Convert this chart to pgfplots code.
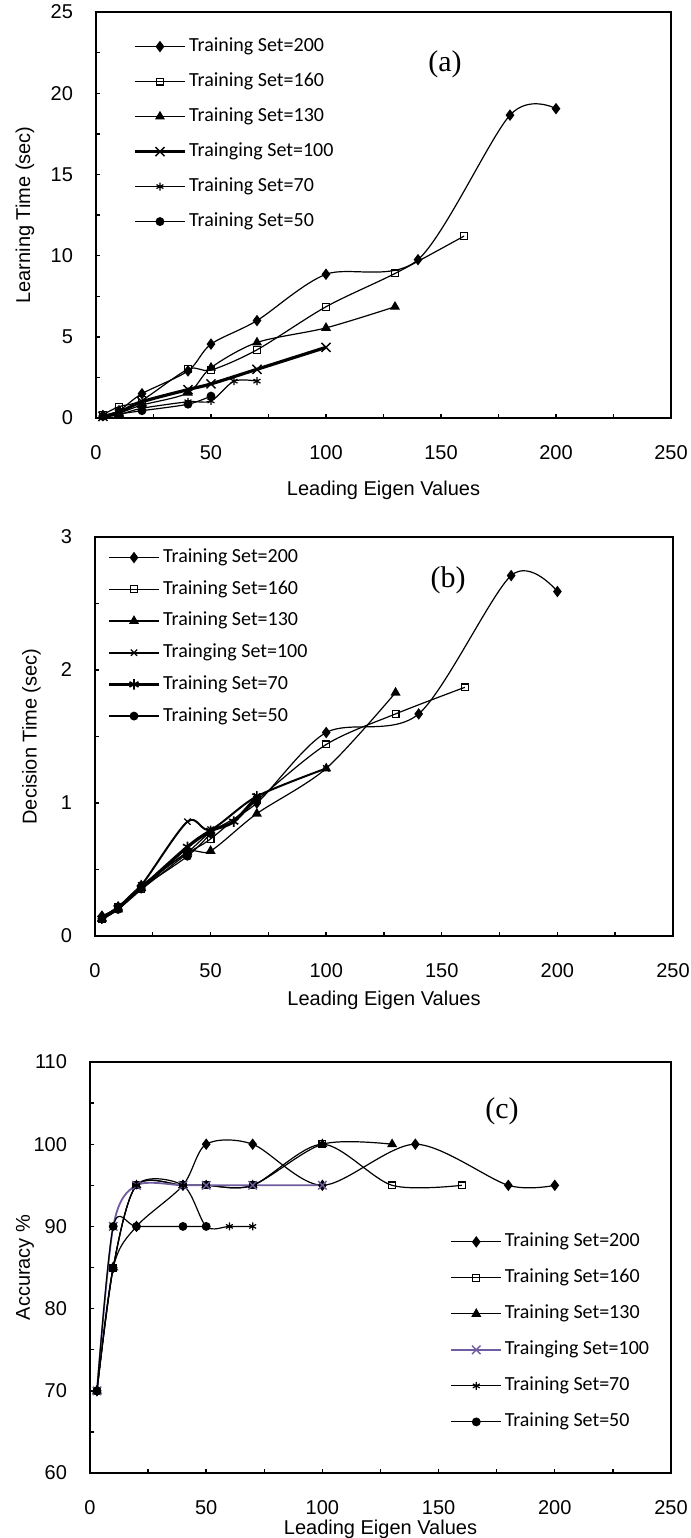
\documentclass[border=0pt]{standalone}
\usepackage{fontspec}
\setmainfont{Liberation Sans}
\newfontfamily\legfont{Carlito}
\newfontfamily\capfont{Liberation Serif}
\usepackage{pgfplots}
\pgfplotsset{compat=1.18}
\definecolor{purp}{RGB}{112,92,160}

\pgfplotsset{
  panel/.style={
    scale only axis, anchor=north west,
    xmin=0, xmax=250, xtick={0,50,...,250}, minor x tick num=1,
    tick align=inside, xtick pos=bottom, ytick pos=left,
    major tick length=2.2pt, minor tick length=2pt,
    every tick/.style={black, line width=0.7pt},
    axis line style={line width=0.8pt},
    /pgf/number format/assume math mode=true,
    ticklabel style={font=\fontsize{10}{12}\selectfont},
    xticklabel style={yshift=-10pt},
    yticklabel style={xshift=-8pt},
    label style={font=\fontsize{10}{12}\selectfont},
    legend cell align=left,
    legend style={draw=none, fill=none, inner sep=0pt, anchor=north west,
      font=\legfont\fontsize{10}{12}\selectfont,
      nodes={inner sep=0pt, text height=7pt, text depth=2pt},
      /tikz/every odd column/.append style={column sep=1.3pt}},
    legend image code/.code={\draw[mark repeat=2,mark phase=2,##1]
      plot coordinates {(0pt,0pt)(12.5pt,0pt)(25pt,0pt)};},
    every axis plot/.append style={smooth, black, line width=0.6pt},
  },
  s200/.style={mark=diamond*, mark size=2.4pt, mark options={solid, fill=black}},
  s160/.style={mark=square, mark size=1.7pt, mark options={solid, fill=white}},
  s130/.style={mark=triangle*, mark size=2.3pt, mark options={solid, fill=black}},
  s50/.style={mark=*, mark size=1.9pt, mark options={solid, fill=black}},
}

\begin{document}
\begin{tikzpicture}
\useasboundingbox (0,0) rectangle (345.5pt,-769pt);

% (a) learning time
\begin{axis}[panel, at={(48pt,-6pt)}, width=287.5pt, height=203pt,
  ymin=0, ymax=25, ytick={0,5,...,25}, minor y tick num=1,
  ylabel={Learning Time (sec)},
  ylabel style={at={(axis description cs:-0.1235,0.5)}, anchor=center},
  xlabel={Leading Eigen Values},
  xlabel style={at={(axis description cs:0.5,-0.177)}, anchor=center},
  legend style={at={(axis description cs:0.0643,0.938)},
    /tikz/row sep=8.5pt},
]
\addplot[s200] coordinates {(3,0.15)(10,0.45)(20,1.5)(40,2.9)(50,4.55)(70,6.0)(100,8.85)(140,9.75)(180,18.65)(200,19.05)};
\addlegendentry{Training Set=200}
\addplot[s160] coordinates {(3,0.2)(10,0.7)(20,1.1)(40,3.0)(50,2.95)(70,4.2)(100,6.85)(130,8.9)(160,11.2)};
\addlegendentry{Training Set=160}
\addplot[s130] coordinates {(3,0.15)(10,0.3)(20,0.8)(40,1.55)(50,3.1)(70,4.65)(100,5.55)(130,6.85)};
\addlegendentry{Training Set=130}
\addplot[line width=1.6pt, mark=x, mark size=3.2pt, mark options={solid, line width=0.7pt}] coordinates {(3,0.1)(10,0.35)(20,1.0)(40,1.75)(50,2.1)(70,3.0)(100,4.35)};
\addlegendentry{Trainging Set=100}
\addplot[mark=asterisk, mark size=2pt, mark options={solid}] coordinates {(3,0.05)(10,0.2)(20,0.6)(40,1.0)(50,1.05)(60,2.27)(70,2.27)};
\addlegendentry{Training Set=70}
\addplot[s50] coordinates {(3,0.1)(10,0.25)(20,0.45)(40,0.85)(50,1.35)};
\addlegendentry{Training Set=50}
\node[font=\capfont\fontsize{15}{17}\selectfont] at (rel axis cs:0.607,0.872) {(a)};
\end{axis}

% (b) decision time
\begin{axis}[panel, at={(47.5pt,-268.5pt)}, width=289pt, height=199.5pt,
  ymin=0, ymax=3, ytick={0,1,2,3}, minor y tick num=1,
  ylabel={Decision Time (sec)},
  ylabel style={at={(axis description cs:-0.11,0.5)}, anchor=center},
  xlabel={Leading Eigen Values},
  xlabel style={at={(axis description cs:0.5,-0.16)}, anchor=center},
  legend style={at={(axis description cs:0.0208,0.972)},
    /tikz/row sep=6.85pt},
]
\addplot[s200] coordinates {(3,0.15)(10,0.22)(20,0.38)(40,0.63)(50,0.78)(70,1.0)(100,1.53)(140,1.67)(180,2.71)(200,2.59)};
\addlegendentry{Training Set=200}
\addplot[s160] coordinates {(3,0.13)(10,0.22)(20,0.35)(40,0.62)(50,0.73)(70,1.02)(100,1.44)(130,1.67)(160,1.87)};
\addlegendentry{Training Set=160}
\addplot[s130] coordinates {(3,0.13)(10,0.2)(20,0.36)(40,0.63)(50,0.64)(70,0.92)(100,1.26)(130,1.83)};
\addlegendentry{Training Set=130}
\addplot[line width=1pt, mark=x, mark size=2.2pt, mark options={solid, line width=0.6pt}] coordinates {(3,0.13)(10,0.22)(20,0.38)(40,0.86)(50,0.8)(70,1.05)(100,1.26)};
\addlegendentry{Trainging Set=100}
\addplot[line width=1.6pt, mark=asterisk, mark size=2.6pt, mark options={solid, line width=0.8pt}] coordinates {(3,0.13)(10,0.21)(20,0.36)(40,0.67)(50,0.79)(60,0.86)(70,1.05)};
\addlegendentry{Training Set=70}
\addplot[s50] coordinates {(3,0.13)(10,0.2)(20,0.36)(40,0.6)(50,0.77)};
\addlegendentry{Training Set=50}
\node[font=\capfont\fontsize{15}{17}\selectfont] at (rel axis cs:0.611,0.892) {(b)};
\end{axis}

% (c) accuracy
\begin{axis}[panel, at={(45pt,-531pt)}, width=290.5pt, height=205.5pt,
  ymin=60, ymax=110, ytick={60,70,...,110}, minor y tick num=1,
  ylabel={Accuracy \%},
  ylabel style={at={(axis description cs:-0.112,0.5)}, anchor=center},
  xlabel={Leading Eigen Values},
  xlabel style={at={(axis description cs:0.5,-0.136)}, anchor=center},
  legend style={at={(axis description cs:0.6196,0.5852)},
    /tikz/row sep=9pt},
]
\addplot[s200] coordinates {(3,70)(10,85)(20,90)(40,95)(50,100)(70,100)(100,95)(140,100)(180,95)(200,95)};
\addlegendentry{Training Set=200}
\addplot[s160] coordinates {(3,70)(10,85)(20,95)(40,95)(50,95)(70,95)(100,100)(130,95)(160,95)};
\addlegendentry{Training Set=160}
\addplot[s130] coordinates {(3,70)(10,85)(20,95)(40,95)(50,95)(70,95)(100,100)(130,100)};
\addlegendentry{Training Set=130}
\addplot[purp, line width=0.9pt, mark=x, mark size=3pt, mark options={solid, purp, line width=0.7pt}] coordinates {(3,70)(10,90)(20,95)(40,95)(50,95)(70,95)(100,95)};
\addlegendentry{Trainging Set=100}
\addplot[mark=asterisk, mark size=2pt, mark options={solid}] coordinates {(3,70)(10,85)(20,95)(40,95)(50,90)(60,90)(70,90)};
\addlegendentry{Training Set=70}
\addplot[s50] coordinates {(3,70)(10,90)(20,90)(40,90)(50,90)};
\addlegendentry{Training Set=50}
\node[font=\capfont\fontsize{15}{17}\selectfont] at (rel axis cs:0.709,0.881) {(c)};
\end{axis}
\end{tikzpicture}
\end{document}
